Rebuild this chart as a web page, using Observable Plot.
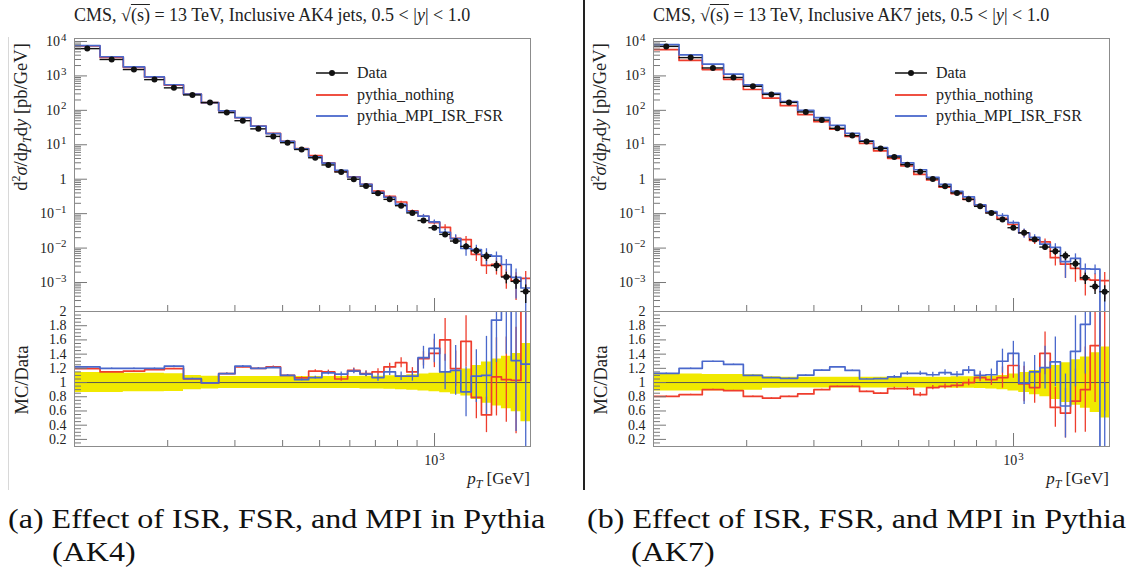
<!DOCTYPE html>
<html><head><meta charset="utf-8">
<script src="https://cdn.jsdelivr.net/npm/d3@7"></script>
<script src="https://cdn.jsdelivr.net/npm/@observablehq/plot@0.6"></script>
<style>
body{margin:0;background:#fff;}
#root{position:relative;width:1130px;height:576px;overflow:hidden;font-family:"Liberation Serif",serif;color:#222;background:#fff;}
.abs{position:absolute;white-space:nowrap;}
.plot{position:absolute;}
.title{font-size:18px;}
.ylab{font-size:18.5px;transform:translate(-50%,-50%) rotate(-90deg);}
.leg{font-size:16px;display:flex;align-items:center;}
.leg svg{margin-right:9px;}
.cap{font-size:28px;color:#111;transform:scaleX(1.145);transform-origin:0 0;}
</style></head><body><div id="root"></div>
<script>
// ---- data ----
const pTedges = [114,133,153,174,196,220,245,272,300,330,362,395,430,468,507,548,592,638,686,737,790,846,905,967,1032,1101,1172,1248,1327,1410,1497,1588,1684,1784];

const ak4Data    = [6200,3000,1530,780,450,280,168,86,50,29,17.5,11.5,7.3,4.2,2.6,1.62,1.0,0.63,0.39,0.26,0.17,0.105,0.063,0.039,0.025,0.016,0.0112,0.0083,0.0058,0.0031,0.00145,0.00108,0.00055];
const ak4Nothing = [7400,3450,1775,920,538,294,167,96.8,61,34.8,21.4,12.65,7.77,4.87,2.99,1.70,1.17,0.709,0.449,0.317,0.218,0.121,0.0841,0.055,0.040,0.0191,0.0177,0.00656,0.00316,0.00335,0.00151,0.00111,0.00132];
const ak4Mpi     = [7560,3600,1836,936,553,296,167,96.8,61.5,34.8,21.2,12.65,7.59,4.49,2.95,1.81,1.16,0.706,0.417,0.299,0.185,0.114,0.0851,0.0577,0.0288,0.0187,0.00974,0.00905,0.00638,0.00583,0.00334,0.00141,0.000693];
const ak4RatioNothing = [1.195,1.15,1.16,1.18,1.195,1.05,0.995,1.125,1.22,1.20,1.22,1.10,1.065,1.16,1.15,1.05,1.17,1.125,1.15,1.22,1.28,1.15,1.335,1.41,1.60,1.195,1.58,0.79,0.545,1.08,1.04,1.03,2.4];
const ak4RatioMpi     = [1.22,1.20,1.20,1.20,1.23,1.056,0.995,1.125,1.23,1.20,1.21,1.10,1.04,1.07,1.135,1.12,1.16,1.12,1.07,1.15,1.09,1.09,1.35,1.48,1.15,1.17,0.87,1.09,1.10,1.88,2.3,1.31,1.26];
const ak4ErrNothing = [0.005,0.005,0.005,0.005,0.005,0.005,0.006,0.008,0.01,0.01,0.012,0.012,0.015,0.02,0.025,0.03,0.035,0.04,0.045,0.05,0.07,0.06,0.1,0.2,0.3,0.25,0.36,0.3,0.25,0.55,0.6,0.75,1.4];
const ak4ErrMpi     = [0.005,0.005,0.005,0.005,0.005,0.005,0.006,0.008,0.01,0.01,0.012,0.012,0.015,0.02,0.025,0.03,0.035,0.04,0.05,0.05,0.06,0.07,0.16,0.2,0.25,0.35,0.35,0.37,0.55,0.6,0.9,1.0,1.3];
const ak4Band = [0.14,0.14,0.13,0.13,0.125,0.1,0.09,0.085,0.085,0.085,0.085,0.085,0.085,0.085,0.085,0.085,0.085,0.09,0.09,0.095,0.1,0.11,0.12,0.13,0.145,0.165,0.19,0.24,0.29,0.33,0.37,0.41,0.55];

const ak7Data    = [7200,3400,1700,900,500,290,170,90,52,30,18.5,12.5,7.8,4.4,2.65,1.66,1.02,0.62,0.40,0.26,0.163,0.104,0.068,0.039,0.028,0.0178,0.0107,0.0081,0.0060,0.0035,0.00137,0.00077,0.00054];
const ak7Nothing = [5800,2820,1530,797,403,226,137,75.6,46.8,28.4,17.5,10.9,6.63,4.03,2.42,1.38,0.949,0.586,0.384,0.26,0.174,0.108,0.0728,0.0484,0.0274,0.0166,0.0151,0.00527,0.00342,0.00259,0.00123,0.00117,0.00113];
const ak7Mpi     = [8140,4080,2210,1130,550,310,180,99.5,61.1,36.6,21.6,13.1,8.23,4.75,2.99,1.88,1.13,0.707,0.446,0.306,0.179,0.115,0.0884,0.055,0.0277,0.0205,0.013,0.0105,0.00402,0.00504,0.00249,0.00246,0];
const ak7RatioNothing = [0.805,0.83,0.90,0.885,0.805,0.78,0.805,0.84,0.90,0.945,0.945,0.875,0.85,0.915,0.915,0.83,0.93,0.945,0.96,1.0,1.07,1.04,1.07,1.24,0.98,0.93,1.41,0.65,0.57,0.74,0.90,1.52,2.1];
const ak7RatioMpi     = [1.13,1.20,1.30,1.255,1.10,1.07,1.06,1.105,1.175,1.22,1.17,1.05,1.055,1.08,1.13,1.13,1.11,1.14,1.115,1.175,1.10,1.11,1.30,1.41,0.99,1.15,1.21,1.29,0.67,1.44,1.82,3.2,0];
const ak7ErrNothing = [0.005,0.005,0.005,0.005,0.005,0.005,0.005,0.005,0.005,0.005,0.005,0.005,0.005,0.02,0.025,0.03,0.03,0.035,0.04,0.045,0.06,0.08,0.15,0.18,0.25,0.22,0.3,0.28,0.35,0.45,0.6,0.8,1.5];
const ak7ErrMpi     = [0.005,0.005,0.005,0.005,0.005,0.005,0.005,0.005,0.005,0.005,0.005,0.005,0.005,0.02,0.025,0.03,0.035,0.04,0.04,0.05,0.06,0.08,0.17,0.17,0.3,0.23,0.3,0.35,0.45,0.5,0.7,1.0,1.0];
const ak7Band = [0.12,0.12,0.115,0.115,0.11,0.08,0.075,0.075,0.075,0.075,0.075,0.075,0.075,0.075,0.075,0.075,0.075,0.075,0.08,0.08,0.085,0.09,0.1,0.12,0.14,0.17,0.2,0.24,0.28,0.32,0.36,0.42,0.5];

const mainYTicks  = [1e4,1e3,1e2,1e1,1,1e-1,1e-2,1e-3];
const ratioYTicks = [0.2,0.4,0.6,0.8,1,1.2,1.4,1.6,1.8,2];
const xMinorTicks = [200,300,400,500,600,700,800,900];
const xMajorTicks = [1000];
const legendLabels = ["Data","pythia_nothing","pythia_MPI_ISR_FSR"];

const panels = [
  {jet:"AK4", letter:"a", ox:0, data:ak4Data, nothing:ak4Nothing, mpi:ak4Mpi, rN:ak4RatioNothing, rM:ak4RatioMpi, eN:ak4ErrNothing, eM:ak4ErrMpi, band:ak4Band},
  {jet:"AK7", letter:"b", ox:579, data:ak7Data, nothing:ak7Nothing, mpi:ak7Mpi, rN:ak7RatioNothing, rM:ak7RatioMpi, eN:ak7ErrNothing, eM:ak7ErrMpi, band:ak7Band}
];

// ---- style ----
const RED = "#ee3d2d", BLUE = "#4a68cc", YELLOW = "#f1e900", FRAME = "#8c8c8c", TICK = "#777";
const FLOOR = 1e-6;
const powFmt = d => { const e = Math.round(Math.log10(d)); return e === 0 ? "1" : "10^" + e; };
const yMinor = [];
for (let k = -4; k <= 4; k++) for (let m = 2; m <= 9; m++) { const v = m * Math.pow(10, k); if (v > 1.44e-4 && v < 1.22e4) yMinor.push(v); }
const rMinor = d3.range(0.15, 2.0, 0.05).filter(v => Math.abs(v*5 - Math.round(v*5)) > 1e-6);

// turn "10^k" tick labels into 10 + raised exponent (real text, tspans)
function raiseExponents(svg) {
  d3.select(svg).selectAll("text").each(function() {
    const m = this.textContent.match(/^10\^(-?\d+)$/);
    if (!m) return;
    const sel = d3.select(this); sel.text(null);
    sel.append("tspan").text("10");
    sel.append("tspan").attr("dy", "-0.5em").attr("dx", "1").attr("font-size", "78%").text(m[1].replace("-", "−"));
  });
}

const root = document.getElementById("root");
function add(html, css, cls) { const d = document.createElement("div"); d.className = "abs " + (cls||""); d.style.cssText = css; d.innerHTML = html; root.appendChild(d); return d; }

const step = vals => [...vals.map((v, i) => ({x: pTedges[i], v})), {x: pTedges[vals.length], v: vals[vals.length - 1]}];

for (const p of panels) {
  const n = p.data.length;
  const bins = d3.range(n).map(i => ({
    lo: pTedges[i], hi: pTedges[i+1], c: Math.sqrt(pTedges[i]*pTedges[i+1]),
    D: p.data[i], N: p.nothing[i], M: p.mpi[i], rN: p.rN[i], rM: p.rM[i], eN: p.eN[i], eM: p.eM[i], b: p.band[i]
  }));
  const common = {width: 560, marginLeft: 74, marginRight: 30, style: {fontFamily: "Liberation Serif, serif", fontSize: "14px", color: "#222", background: "transparent", overflow: "visible"}};

  const main = Plot.plot({
    ...common, height: 312, marginTop: 38, marginBottom: 1,
    x: {type: "log", domain: [114, 1784], axis: null},
    y: {type: "log", domain: [1.44e-4, 1.22e4], axis: null},
    marks: [
      Plot.line(step(p.nothing), {x: "x", y: d => Math.max(d.v, FLOOR), curve: "step-after", stroke: RED, strokeWidth: 1.7, clip: true}),
      Plot.ruleX(bins, {x: "c", y1: d => Math.max(d.N - d.D*d.eN, FLOOR), y2: d => d.N + d.D*d.eN, stroke: RED, strokeWidth: 1.3, clip: true}),
      Plot.line(step(p.mpi), {x: "x", y: d => Math.max(d.v, FLOOR), curve: "step-after", stroke: BLUE, strokeWidth: 1.7, clip: true}),
      Plot.ruleX(bins, {x: "c", y1: d => Math.max(d.M - d.D*d.eM, FLOOR), y2: d => Math.max(d.M + d.D*d.eM, FLOOR), stroke: BLUE, strokeWidth: 1.3, clip: true}),
      Plot.ruleY(bins, {y: "D", x1: "lo", x2: "hi", stroke: "#111", strokeWidth: 1.4}),
      Plot.ruleX(bins, {x: "c", y1: d => d.D*(1 - d.b), y2: d => d.D*(1 + d.b), stroke: "#111", strokeWidth: 1.4}),
      Plot.dot(bins, {x: "c", y: "D", r: 3, fill: "#111"}),
      Plot.axisY(mainYTicks, {anchor: "left", tickSize: -13, fill: "none", stroke: TICK, label: null}),
      Plot.axisY(yMinor, {anchor: "left", tickSize: -7, fill: "none", stroke: TICK, label: null}),
      Plot.axisY(mainYTicks, {anchor: "left", tickSize: 0, tickPadding: 8, tickFormat: powFmt, label: null, fill: "#222"}),
      Plot.axisX(xMinorTicks, {anchor: "bottom", tickSize: -6, fill: "none", stroke: TICK, label: null}),
      Plot.axisX(xMajorTicks, {anchor: "bottom", tickSize: -13, fill: "none", stroke: TICK, label: null}),
      Plot.frame({stroke: FRAME})
    ]
  });
  raiseExponents(main);
  main.classList.add("plot"); main.style.left = p.ox + "px"; main.style.top = "0px";
  root.appendChild(main);

  const ratio = Plot.plot({
    ...common, height: 200, marginTop: 5, marginBottom: 60,
    x: {type: "log", domain: [114, 1784], axis: null},
    y: {domain: [0.1, 2.0], axis: null},
    marks: [
      Plot.areaY(step(p.band), {x: "x", y1: d => 1 - d.v, y2: d => 1 + d.v, curve: "step-after", fill: YELLOW}),
      Plot.ruleY([1], {stroke: "#555", strokeWidth: 1}),
      Plot.line(step(p.rN), {x: "x", y: "v", curve: "step-after", stroke: RED, strokeWidth: 1.7, clip: true}),
      Plot.ruleX(bins, {x: "c", y1: d => d.rN - d.eN, y2: d => d.rN + d.eN, stroke: RED, strokeWidth: 1.3, clip: true}),
      Plot.line(step(p.rM), {x: "x", y: "v", curve: "step-after", stroke: BLUE, strokeWidth: 1.7, clip: true}),
      Plot.ruleX(bins, {x: "c", y1: d => d.rM - d.eM, y2: d => d.rM + d.eM, stroke: BLUE, strokeWidth: 1.3, clip: true}),
      Plot.axisY(ratioYTicks, {anchor: "left", tickSize: -13, fill: "none", stroke: TICK, label: null}),
      Plot.axisY(rMinor, {anchor: "left", tickSize: -7, fill: "none", stroke: TICK, label: null}),
      Plot.axisY(ratioYTicks, {anchor: "left", tickSize: 0, tickPadding: 8, tickFormat: d => String(+d.toFixed(1)), label: null, fill: "#222"}),
      Plot.axisX(xMinorTicks, {anchor: "bottom", tickSize: -6, fill: "none", stroke: TICK, label: null}),
      Plot.axisX(xMajorTicks, {anchor: "bottom", tickSize: -13, fill: "none", stroke: TICK, label: null}),
      Plot.axisX(xMajorTicks, {anchor: "bottom", tickSize: 0, tickPadding: 9, tickFormat: powFmt, label: null, fill: "#222"}),
      Plot.frame({stroke: FRAME})
    ]
  });
  raiseExponents(ratio);
  ratio.classList.add("plot"); ratio.style.left = p.ox + "px"; ratio.style.top = "306px";
  root.appendChild(ratio);

  const ox = p.ox;
  add(`CMS, √<span style="text-decoration:overline">(s)</span> = 13 TeV, Inclusive ${p.jet} jets, 0.5 &lt; |<i>y</i>| &lt; 1.0`, `left:${ox+74}px;top:5px;`, "title");
  add(`d<sup style="font-size:12px">2</sup><i>σ</i>/d<i>p</i><sub style="font-size:12px"><i>T</i></sub>d<i>y</i> [pb/GeV]`, `left:${ox+22}px;top:117px;`, "ylab");
  add(`MC/Data`, `left:${ox+22}px;top:380px;`, "ylab");
  add(`<i>p</i><sub style="font-size:12px"><i>T</i></sub> [GeV]`, `left:${ox+400}px;width:130px;text-align:right;top:469px;font-size:17px;`);
  // legend
  const sw = [
    `<svg width="32" height="10"><line x1="0" y1="5" x2="32" y2="5" stroke="#111" stroke-width="1.5"/><circle cx="16" cy="5" r="3" fill="#111"/></svg>`,
    `<svg width="32" height="10"><line x1="0" y1="5" x2="32" y2="5" stroke="${RED}" stroke-width="1.8"/></svg>`,
    `<svg width="32" height="10"><line x1="0" y1="5" x2="32" y2="5" stroke="${BLUE}" stroke-width="1.8"/></svg>`
  ];
  [73, 95, 116].forEach((cy, i) => add(sw[i] + `<span>${legendLabels[i]}</span>`, `left:${ox+316}px;top:${cy-10}px;height:20px;`, "leg"));
  // caption
  add(`(${p.letter}) Effect of ISR, FSR, and MPI in Pythia`, `left:${ox+8}px;top:503px;`, "cap");
  add(`(${p.jet})`, `left:${ox+52}px;top:536px;`, "cap");
}
// separators
add("", "left:583px;top:0px;width:1.5px;height:490px;background:#222;");
add("", "left:8px;top:37px;width:1px;height:453px;background:#d8d8d8;");
</script></body></html>
